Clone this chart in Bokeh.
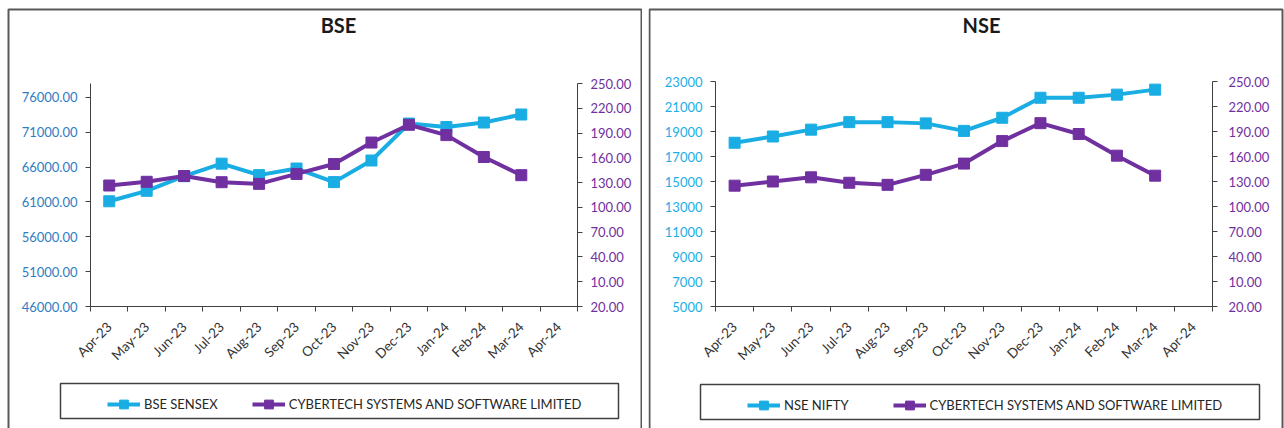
from bokeh.plotting import figure
from bokeh.models import (Range1d, LinearAxis, FixedTicker, PrintfTickFormatter,
                          Legend, LegendItem, Label, BoxAnnotation)
from bokeh.layouts import row
from bokeh.embed import file_html
from bokeh.resources import INLINE

months = ["Apr-23", "May-23", "Jun-23", "Jul-23", "Aug-23", "Sep-23", "Oct-23",
          "Nov-23", "Dec-23", "Jan-24", "Feb-24", "Mar-24", "Apr-24"]

bse_sensex = [61100, 62600, 64700, 66500, 64850, 65800, 63850, 66950, 72250, 71750, 72400, 73550]
cyber_bse = [126.5, 131, 138, 130.5, 128.5, 140.5, 152.5, 178.5, 200, 187.5, 161, 139]

nse_nifty = [18100, 18600, 19150, 19750, 19750, 19650, 19050, 20100, 21700, 21700, 21950, 22350]
cyber_nse = [125, 130, 135, 128.5, 126, 138, 151.5, 178.5, 200, 187, 161, 137]

bse_left_ticks = [46000, 51000, 56000, 61000, 66000, 71000, 76000]
nse_left_ticks = [5000, 7000, 9000, 11000, 13000, 15000, 17000, 19000, 21000, 23000]
right_ticks = [-20, 10, 40, 70, 100, 130, 160, 190, 220, 250]

CYAN = "#19ADE3"
PURPLE = "#7030A0"
FONT = "Lato"
H = 428


def xr(W, v0, p0, v1, p1):
    s = (p1 - p0) / (v1 - v0)
    start = v0 - p0 / s
    return Range1d(start, start + W / s)


def yr(v0, p0, v1, p1):
    k = (v1 - v0) / (p0 - p1)
    return Range1d(v0 - (H - p0) * k, v0 + p0 * k)


def panel(W, title, idx_name, idx_vals, stock_vals, left_range, left_ticks, left_fmt,
          left_color, fl, fr, ft, fb, r_standoff, border, title_x, leg_x, leg_y,
          leg_spacing, box):
    n = len(months)
    x_range = xr(W, 0, fl, n, fr)
    y_range = yr(left_range[0], fb, left_range[1], ft)
    r_range = yr(-20, fb, 250, ft)
    p = figure(width=W, height=H, output_backend="svg", toolbar_location=None,
               x_range=x_range, y_range=y_range, min_border=0,
               min_border_left=0, min_border_right=0, min_border_top=0,
               min_border_bottom=0)
    p.outline_line_color = None
    p.grid.visible = False
    p.background_fill_color = "white"
    p.border_fill_color = "white"

    def px(xpix):
        return x_range.start + xpix / W * (x_range.end - x_range.start)

    def py(ypix):
        return y_range.end - ypix / H * (y_range.end - y_range.start)

    xs = [i + 0.5 for i in range(len(idx_vals))]

    # x axis
    xa = p.xaxis[0]
    xa.fixed_location = left_range[0]
    xa.bounds = (0, n)
    xa.ticker = FixedTicker(ticks=[i + 0.5 for i in range(n)],
                            minor_ticks=list(range(n + 1)))
    xa.major_label_overrides = {i + 0.5: m for i, m in enumerate(months)}
    xa.major_label_orientation = 0.785398
    xa.major_tick_out = 0
    xa.major_tick_in = 0
    xa.minor_tick_out = 5
    xa.minor_tick_in = 0
    xa.major_label_standoff = 13
    xa.major_label_text_font = FONT
    xa.major_label_text_font_size = "13.5px"
    xa.major_label_text_color = "#333333"
    xa.axis_line_color = "#404040"
    xa.minor_tick_line_color = "#404040"

    # left axis
    ya = p.yaxis[0]
    ya.fixed_location = 0
    ya.bounds = left_range
    ya.ticker = FixedTicker(ticks=left_ticks, minor_ticks=[])
    ya.formatter = PrintfTickFormatter(format=left_fmt)
    ya.major_tick_out = 5
    ya.major_tick_in = 0
    ya.minor_tick_line_color = None
    ya.major_label_standoff = 8
    ya.major_label_text_font = FONT
    ya.major_label_text_font_size = "13px"
    ya.major_label_text_color = left_color
    ya.axis_line_color = "#404040"
    ya.major_tick_line_color = "#404040"

    # right axis
    p.extra_y_ranges = {"r": r_range}
    ra = LinearAxis(y_range_name="r", fixed_location=n, bounds=(-20, 250))
    ra.ticker = FixedTicker(ticks=right_ticks, minor_ticks=[])
    ra.formatter = PrintfTickFormatter(format="%.2f")
    ra.major_label_overrides = {-20: "20.00"}
    ra.major_tick_out = 5
    ra.major_tick_in = 0
    ra.minor_tick_line_color = None
    ra.major_label_standoff = r_standoff
    ra.major_label_text_font = FONT
    ra.major_label_text_font_size = "13px"
    ra.major_label_text_color = "#7030A0"
    ra.axis_line_color = "#404040"
    ra.major_tick_line_color = "#404040"
    p.add_layout(ra, "right")

    l1 = p.line(xs, idx_vals, line_color=CYAN, line_width=4)
    s1 = p.scatter(xs, idx_vals, marker="square", size=11, fill_color=CYAN, line_color=CYAN)
    l2 = p.line(xs, stock_vals, line_color=PURPLE, line_width=4, y_range_name="r")
    s2 = p.scatter(xs, stock_vals, marker="square", size=11, fill_color=PURPLE,
                   line_color=PURPLE, y_range_name="r")

    # chart border
    p.add_layout(BoxAnnotation(left=px(border[0]), right=px(border[1]), top=py(border[2]),
                               bottom=py(H + 10), fill_alpha=0, line_color="#595959",
                               line_alpha=1, line_width=2))
    # legend box
    p.add_layout(BoxAnnotation(left=px(box[0]), right=px(box[1]), top=py(box[2]),
                               bottom=py(box[3]), fill_alpha=0, line_color="#404040",
                               line_alpha=1, line_width=1.5))

    leg = Legend(items=[LegendItem(label=idx_name, renderers=[l1, s1]),
                        LegendItem(label="CYBERTECH SYSTEMS AND SOFTWARE LIMITED",
                                   renderers=[l2, s2])],
                 location=(leg_x, H - leg_y), orientation="horizontal",
                 padding=0, margin=0, spacing=leg_spacing, glyph_width=33,
                 glyph_height=22, label_standoff=4, label_height=22,
                 border_line_color=None, background_fill_alpha=0,
                 label_text_font=FONT, label_text_font_size="13px",
                 label_text_color="#262626")
    p.add_layout(leg, "center")

    p.add_layout(Label(x=px(title_x), y=py(24), text=title, text_align="center",
                       text_baseline="middle", text_font=FONT, text_font_style="bold",
                       text_font_size="20px", text_color="#1a1a1a"))
    return p


p1 = panel(642, "BSE", "BSE SENSEX", bse_sensex, cyber_bse, (46000, 78000), bse_left_ticks,
           "%.2f", "#2E7DC4", 90, 577, 83, 306, 8, (8, 641, 9),
           338, 107, 415, 34, (60, 618, 383, 418))
p2 = panel(636, "NSE", "NSE NIFTY", nse_nifty, cyber_nse, (5000, 23000), nse_left_ticks,
           "%d", "#1CAEE6", 67, 564, 81, 306, 11, (1, 634, 9),
           333, 99, 416, 44, (52, 611, 384, 419))

layout = row(p1, p2, spacing=6)
open("out.html", "w").write(file_html(layout, INLINE))
